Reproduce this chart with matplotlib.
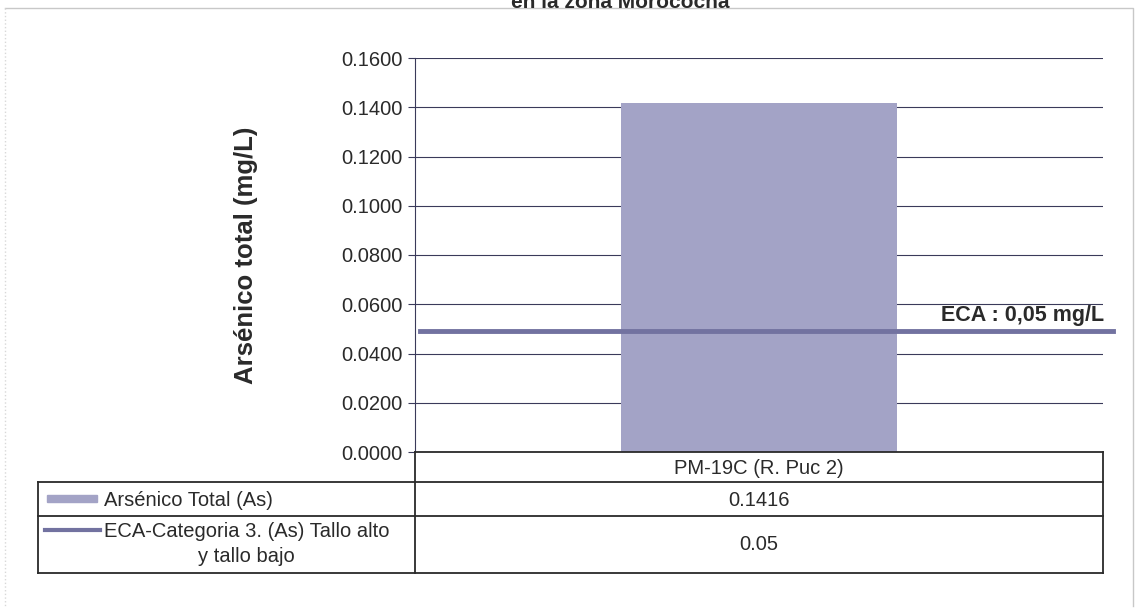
import matplotlib.pyplot as plt
import numpy as np

plt.rcParams['font.family'] = ['Liberation Sans', 'DejaVu Sans']

# data
categories = ['PM-19C (R. Puc 2)']
arsenico_total = [0.1416]
eca_limit = [0.05]
series_names = ['Arsénico Total (As)', 'ECA-Categoria 3. (As) Tallo alto\ny tallo bajo']
yticks = np.arange(0, 0.1601, 0.02)

W, H = 1137, 609
bar_color = '#a3a3c6'
line_color = '#7272a0'
grid_color = '#3a3a5a'
tc = '#2a2a2a'

fig = plt.figure(figsize=(W / 100, H / 100), dpi=100)

# pixel frame used for the surrounding layout (border, data table)
def fx(px):
    return px / W

def fy(py):
    return 1 - py / H

ax = fig.add_axes([fx(415), fy(452), fx(1103) - fx(415), fy(58) - fy(452)])
x = np.arange(len(categories))
ax.bar(x, arsenico_total, width=0.6, color=bar_color, zorder=2)
ax.set_xlim(-0.75, 0.75)
ax.set_ylim(0, 0.16)
ax.set_yticks(yticks)
ax.set_yticklabels([f'{v:.4f}' for v in yticks], fontsize=14.5, color=tc)
ax.set_xticks([])
ax.yaxis.grid(True, color=grid_color, linewidth=0.8, zorder=1)
ax.tick_params(axis='y', length=5, color=grid_color, pad=4)
for s in ['top', 'right', 'bottom']:
    ax.spines[s].set_visible(False)
ax.spines['left'].set_color(grid_color)
ax.spines['left'].set_linewidth(0.8)

# ECA line runs a bit past the plot area, as in the original
ax.plot([-0.74, 0.772], [eca_limit[0] * 0.98] * 2, color=line_color, linewidth=3.5,
        clip_on=False, zorder=3)
ax.text(0.752, eca_limit[0] * 0.98 + 0.0022, 'ECA : 0,05 mg/L', ha='right', va='bottom',
        fontsize=15.5, fontweight='bold', color=tc)

ax.set_ylabel('Arsénico total (mg/L)', fontsize=18.5, fontweight='bold', labelpad=60,
              color=tc)

# overlay for table and frame, in pixel units
ov = fig.add_axes([0, 0, 1, 1], zorder=5)
ov.set_xlim(0, W)
ov.set_ylim(H, 0)
ov.axis('off')

# outer chart frame
ov.plot([5, 1133, 1133], [8, 8, 606], color='#c8c8c8', linewidth=1)
ov.plot([5, 5], [8, 606], color='#d8d8d8', linewidth=1, linestyle=':')

# title, cut off at the top like the scan
ov.text(620, 2, 'en la zona Morococha', ha='center', va='center', fontsize=15,
        fontweight='bold', color=tc)

lw = 1.3
ov.plot([415, 1103], [452, 452], color=tc, linewidth=lw)
ov.plot([38, 1103], [482, 482], color=tc, linewidth=lw)
ov.plot([38, 1103], [516, 516], color=tc, linewidth=lw)
ov.plot([38, 1103], [573, 573], color=tc, linewidth=lw)
ov.plot([38, 38], [482, 573], color=tc, linewidth=lw)
ov.plot([415, 415], [452, 573], color=tc, linewidth=lw)
ov.plot([1103, 1103], [452, 573], color=tc, linewidth=lw)

mid = (415 + 1103) / 2
ov.text(mid, 468, categories[0], ha='center', va='center', fontsize=14.5, color=tc)
ov.text(mid, 500, f'{arsenico_total[0]:.4f}', ha='center', va='center', fontsize=14.5, color=tc)
ov.text(mid, 545, f'{eca_limit[0]:g}', ha='center', va='center', fontsize=14.5, color=tc)

# legend keys inside the table
ov.add_patch(plt.Rectangle((47, 495), 50, 7, color=bar_color))
ov.text(104, 500, series_names[0], ha='left', va='center', fontsize=14.5, color=tc)
ov.plot([45, 100], [530, 530], color=line_color, linewidth=3)
ov.text(104, 544, series_names[1], ha='left', va='center', fontsize=14.5, color=tc,
        multialignment='center', linespacing=1.45)

fig.savefig('out.png', dpi=100)
